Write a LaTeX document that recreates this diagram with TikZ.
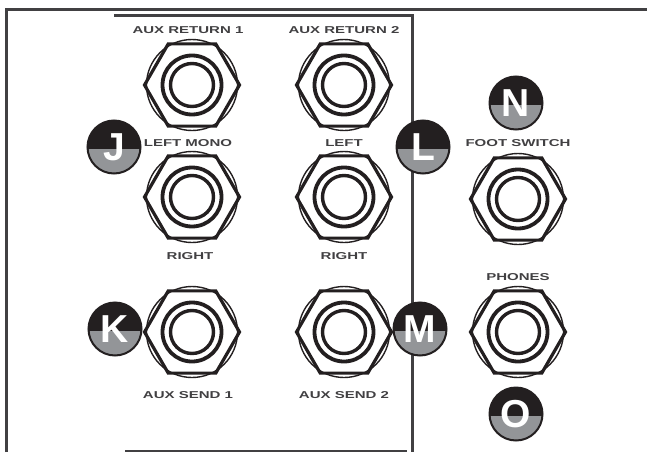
\documentclass[tikz,border=0pt]{standalone}
\usepackage{xcolor}
\usepackage{fontspec}
\setmainfont{Liberation Sans}
\newfontfamily\labelfont[FakeStretch=1.5]{Liberation Sans}
\usepackage{tikz}
\usetikzlibrary{shapes.geometric, positioning, calc}
\definecolor{inkdark}{RGB}{35, 31, 32}
\definecolor{panelline}{RGB}{65, 64, 66}
\definecolor{badgegray}{RGB}{147, 149, 152}
\tikzset{
  panelrule/.style={draw=panelline, line width=2.6pt},
  jackcircle/.style={
    circle, draw=inkdark, line width=1.4pt, inner sep=0pt, minimum size=91pt
  },
  jackhex/.style={
    regular polygon, regular polygon sides=6, draw=inkdark, line width=3.2pt,
    inner sep=0pt, outer sep=0pt, minimum size=95pt
  },
  jackring/.style={
    circle, draw=inkdark, line width=3.8pt, inner sep=0pt, minimum size=59pt
  },
  jackbore/.style={
    circle, draw=inkdark, line width=3.4pt, inner sep=0pt, minimum size=43pt
  },
  badge/.style={
    circle, draw=inkdark, line width=2pt, fill=inkdark, inner sep=0pt,
    minimum size=53pt, text=white, font=\fontsize{39}{39}\selectfont\bfseries,
    path picture={
      \fill[badgegray] ([yshift=-2pt]path picture bounding box.west)
        rectangle (path picture bounding box.south east);
    }
  },
  jacklabel/.style={
    text=panelline, inner sep=0pt,
    font=\labelfont\fontsize{10}{10}\selectfont\bfseries
  }
}
\begin{document}
\begin{tikzpicture}[x=1pt, y=-1pt]

  \useasboundingbox (0,0) rectangle (647,452);

  % Panel outline
  \draw[panelrule, line width=3pt] (6,452) -- (6,10) -- (647,10);
  \draw[panelrule] (114,15.5) -- (412.5,15.5) -- (412.5,452);
  \draw[panelrule] (125,451) -- (407,451);

  % Jacks
  \foreach \jackname/\jackx/\jacky in {
    ret1/192/85, ret2/344/85, leftmono/192/197, leftst/344/197,
    send1/192/332, send2/344/332, foot/518/199, phones/518/332} {
    \node[jackcircle] (\jackname-c) at (\jackx,\jacky) {};
    \node[jackhex] (\jackname-h) at (\jackx,\jacky) {};
    \node[jackring] (\jackname-r) at (\jackx,\jacky) {};
    \node[jackbore] (\jackname) at (\jackx,\jacky) {};
  }

  % Labels
  \node[jacklabel] (lblret1) at (188,30.5) {AUX RETURN 1};
  \node[jacklabel] (lblret2) at (344,30.5) {AUX RETURN 2};
  \node[jacklabel] (lblleftmono) at (188,143.5) {LEFT MONO};
  \node[jacklabel] (lblleftst) at (344,143.5) {LEFT};
  \node[jacklabel] (lblright1) at (190,256) {RIGHT};
  \node[jacklabel] (lblright2) at (344,256) {RIGHT};
  \node[jacklabel] (lblsend1) at (188,395) {AUX SEND 1};
  \node[jacklabel] (lblsend2) at (344,395) {AUX SEND 2};
  \node[jacklabel] (lblfoot) at (518,143) {FOOT SWITCH};
  \node[jacklabel] (lblphones) at (518,277) {PHONES};

  % Badges
  \node[badge] (badgej) at (114,147) {J};
  \node[badge] (badgek) at (115,329) {K};
  \node[badge] (badgel) at (423,147) {L};
  \node[badge] (badgem) at (420,329) {M};
  \node[badge] (badgen) at (516,103) {N};
  \node[badge] (badgeo) at (516,414) {O};

\end{tikzpicture}
\end{document}
